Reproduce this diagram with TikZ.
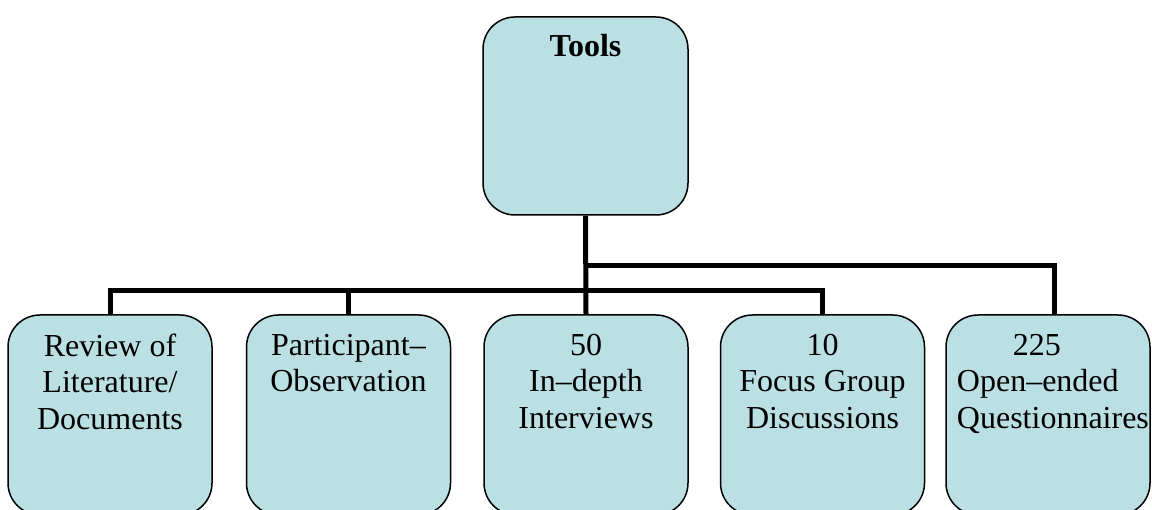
\documentclass[tikz,border=0pt]{standalone}
\usepackage{fontspec}
\setmainfont{Liberation Serif}
\definecolor{boxblue}{RGB}{187,224,227}

\begin{document}
\begin{tikzpicture}[x=1pt,y=1pt,yscale=-1,xscale=1,
  toolbox/.style={draw=black, line width=1.5pt, fill=boxblue, rounded corners=32pt, minimum width=204pt, minimum height=200pt, inner sep=0pt},
  boxtext/.style={inner sep=0.75pt, align=center, font=\fontsize{32}{36.5}\selectfont},
  bus/.style={line width=5pt}]
\useasboundingbox (0,0) rectangle (1152,510);

%Shape: Rounded Rect [id:tools]
\node [toolbox, minimum width=205pt, minimum height=198pt] (tools) at (585.5,116) {};
%Shape: Rounded Rect [id:lit]
\node [toolbox] (lit) at (110,415) {};
%Shape: Rounded Rect [id:obs]
\node [toolbox] (obs) at (348.5,415) {};
%Shape: Rounded Rect [id:inter]
\node [toolbox] (inter) at (586,415) {};
%Shape: Rounded Rect [id:focus]
\node [toolbox] (focus) at (822.5,415) {};
%Shape: Rounded Rect [id:quest]
\node [toolbox] (quest) at (1048,415) {};

%Connector lines
\coordinate (lowbus) at (586,291);
\coordinate (highbus) at (586,266);
\draw [bus] (tools.south) -- (inter.north) ;
\draw [bus] (lit.north) |- (lowbus) -| (focus.north) ;
\draw [bus] (obs.north) -- (obs.north |- lowbus) ;
\draw [bus] (highbus) -| ([xshift=6pt]quest.north) ;

% Text Node
\node [boxtext, anchor=north, font=\fontsize{32}{36.5}\selectfont\bfseries] (toolsText) at (585.5,33) {Tools};
% Text Node
\node [boxtext, anchor=north] (litText) at (110,333) {Review of\\Literature/\\Documents};
% Text Node
\node [boxtext, anchor=north] (obsText) at (348.5,333) {Participant–\\Observation};
% Text Node
\node [boxtext, anchor=north] (interText) at (586,333) {50\\In–depth\\Interviews};
% Text Node
\node [boxtext, anchor=north] (focusText) at (822.5,333) {10\\Focus Group\\Discussions};
% Text Node
\node [boxtext, anchor=north west, align=left] (questText) at (956,333) {\hspace*{56pt}225\\Open–ended\\Questionnaires};

\end{tikzpicture}
\end{document}
